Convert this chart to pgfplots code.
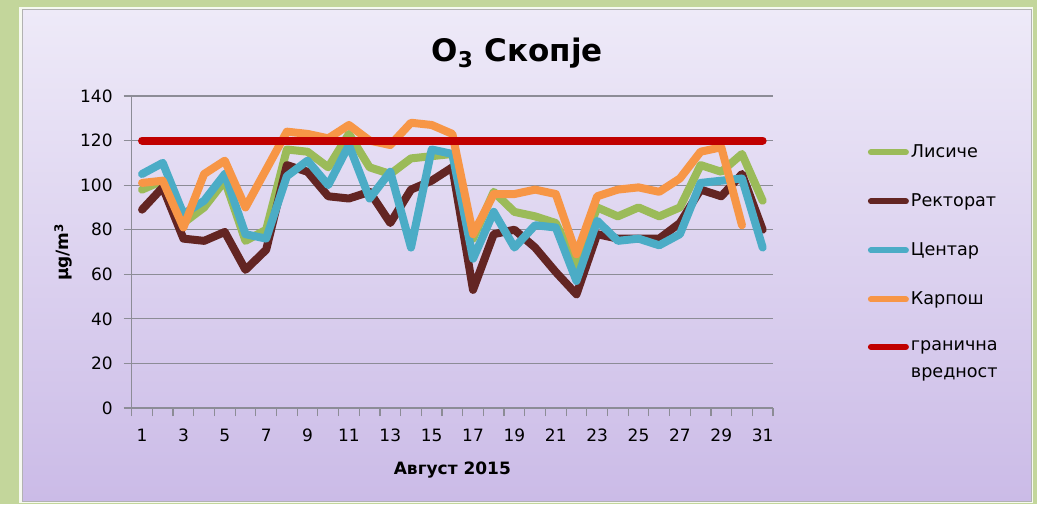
\documentclass[border=0pt]{standalone}
\usepackage{fontspec}
\setmainfont{DejaVu Sans}
\usepackage{pgfplots}
\pgfplotsset{compat=1.18}
\definecolor{cgreen}{RGB}{155,187,89}
\definecolor{cbrown}{RGB}{99,37,35}
\definecolor{ccyan}{RGB}{75,172,198}
\definecolor{corange}{RGB}{247,150,70}
\definecolor{cred}{RGB}{192,0,0}
\definecolor{frame}{RGB}{195,214,155}
\definecolor{ptop}{RGB}{238,234,248}
\definecolor{pbot}{RGB}{203,187,231}
\definecolor{axgray}{RGB}{140,140,150}
\begin{document}
\begin{tikzpicture}[x=1pt,y=1pt]
\fill[frame] (0,0) rectangle (518.5,252);
\fill[white!85!frame] (9.5,0.5) rectangle (516.5,248.5);
\shade[top color=ptop,bottom color=pbot,draw=gray!60,line width=0.5pt] (11,1.5) rectangle (515.5,247);
\begin{axis}[
  at={(65.85pt,48pt)}, anchor=south west,
  scale only axis, width=320.65pt, height=156pt,
  xmin=0.5, xmax=31.5, ymin=0, ymax=140,
  axis x line*=bottom, axis y line*=left,
  axis line style={-, axgray, line width=0.6pt},
  ytick={0,20,...,140},
  ymajorgrids, grid style={axgray, line width=0.6pt},
  xtick={0.5,1.5,...,31.5}, xticklabels={},
  extra x ticks={1,3,...,31},
  extra x tick style={major tick length=0pt, grid=none},
  tick align=outside, tick pos=left,
  major tick length=4pt,
  tick style={axgray, line width=0.6pt},
  /pgf/number format/assume math mode=true,
  ticklabel style={font=\fontsize{8.5}{10}\selectfont},
  xticklabel style={yshift=-7pt},
  yticklabel style={xshift=-2pt},
  xlabel={\bfseries Август 2015},
  xlabel style={font=\fontsize{8.5}{10}\selectfont, yshift=1pt},
  ylabel={\bfseries µg/m\textsuperscript{3}},
  ylabel style={font=\fontsize{8.5}{10}\selectfont, yshift=-3pt},
  title={\bfseries O\textsubscript{3} Скопје},
  title style={font=\fontsize{15.5}{18}\selectfont, at={(axis description cs:0.601,1.099)}, anchor=center},
  legend style={at={(axis description cs:1.138,0.872)}, anchor=north west, draw=none, fill=none,
    font=\fontsize{8.8}{13}\selectfont, row sep=12.6pt, nodes={inner xsep=1pt}},
  legend cell align=left,
  legend image code/.code={\draw[#1,line width=3pt,line cap=round] (0pt,0pt) -- (17.5pt,0pt);},
  every axis plot/.append style={line width=4pt, line join=round, line cap=round, mark=none},
]
\addplot[cgreen] coordinates {(1,98)(2,102)(3,83)(4,90)(5,102)(6,75)(7,80)(8,116)(9,115)(10,108)(11,123)(12,108)(13,105)(14,112)(15,113)(16,114)(17,76)(18,97)(19,88)(20,86)(21,83)(22,64)(23,90)(24,86)(25,90)(26,86)(27,90)(28,109)(29,106)(30,114)(31,93)};
\addlegendentry{Лисиче}
\addplot[cbrown] coordinates {(1,89)(2,99)(3,76)(4,75)(5,79)(6,62)(7,71)(8,109)(9,106)(10,95)(11,94)(12,97)(13,83)(14,98)(15,102)(16,108)(17,53)(18,78)(19,80)(20,72)(21,61)(22,51)(23,78)(24,76)(25,76)(26,76)(27,83)(28,98)(29,95)(30,105)(31,80)};
\addlegendentry{Ректорат}
\addplot[ccyan] coordinates {(1,105)(2,110)(3,87)(4,93)(5,105)(6,78)(7,76)(8,104)(9,111)(10,100)(11,118)(12,94)(13,106)(14,72)(15,116)(16,114)(17,67)(18,88)(19,72)(20,82)(21,81)(22,57)(23,84)(24,75)(25,76)(26,73)(27,78)(28,101)(29,102)(30,103)(31,72)};
\addlegendentry{Центар}
\addplot[corange] coordinates {(1,101)(2,102)(3,81)(4,105)(5,111)(6,90)(7,107)(8,124)(9,123)(10,121)(11,127)(12,120)(13,118)(14,128)(15,127)(16,123)(17,78)(18,96)(19,96)(20,98)(21,96)(22,69)(23,95)(24,98)(25,99)(26,97)(27,103)(28,115)(29,117)(30,82)};
\addlegendentry{Карпош}
\addplot[cred] coordinates {(1,120)(31,120)};
\addlegendentry{\vtop{\baselineskip=13.5pt\hbox{гранична}\hbox{вредност}}}
\end{axis}
\end{tikzpicture}
\end{document}
